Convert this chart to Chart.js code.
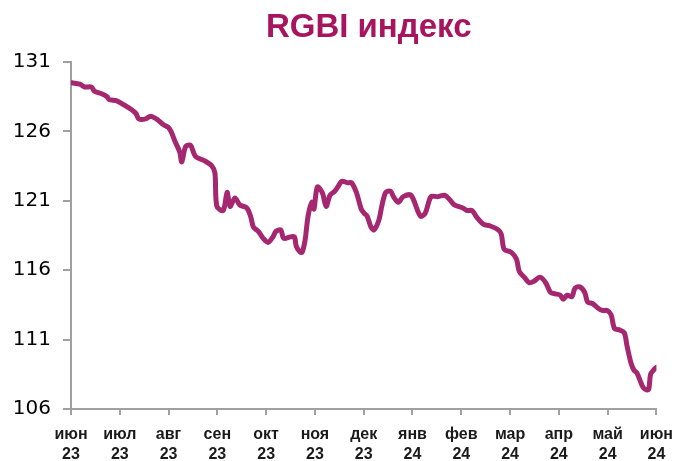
<!DOCTYPE html>
<html>
<head>
<meta charset="utf-8">
<script src="https://cdn.jsdelivr.net/npm/chart.js@4"></script>
<style>
  html, body { margin: 0; padding: 0; background: #fff; }
  #wrap { width: 683px; height: 461px; }
</style>
</head>
<body>
<div id="wrap"><canvas id="grafico" width="683" height="461"></canvas></div>
<script>
// подписи оси X: месяц и год
const monthLabels = ['июн', 'июл', 'авг', 'сен', 'окт', 'ноя', 'дек', 'янв', 'фев', 'мар', 'апр', 'май', 'июн'];
const yearLabels = ['23', '23', '23', '23', '23', '23', '23', '24', '24', '24', '24', '24', '24'];
const yTicks = [106, 111, 116, 121, 126, 131];

// позиция точки в месяцах от июня 23
const datePos = [
  0.02, 0.18, 0.28, 0.42, 0.48, 0.64, 0.74, 0.78, 0.94, 1.09,
  1.23, 1.33, 1.39, 1.53, 1.63, 1.75, 1.89, 1.99, 2.05, 2.13,
  2.23, 2.27, 2.35, 2.45, 2.55, 2.73, 2.89, 2.95, 2.99, 3.12,
  3.20, 3.26, 3.36, 3.46, 3.60, 3.68, 3.74, 3.84, 3.94, 4.04,
  4.14, 4.20, 4.30, 4.36, 4.50, 4.58, 4.62, 4.70, 4.74, 4.80,
  4.86, 4.94, 4.98, 5.05, 5.15, 5.23, 5.31, 5.41, 5.47, 5.55,
  5.67, 5.75, 5.85, 5.95, 6.01, 6.07, 6.15, 6.21, 6.31, 6.37,
  6.45, 6.55, 6.61, 6.71, 6.81, 6.97, 7.16, 7.26, 7.38, 7.52,
  7.66, 7.76, 7.86, 8.02, 8.12, 8.22, 8.32, 8.46, 8.58, 8.76,
  8.82, 8.88, 9.02, 9.13, 9.19, 9.29, 9.39, 9.49, 9.61, 9.73,
  9.83, 9.93, 10.03, 10.09, 10.17, 10.27, 10.33, 10.43, 10.53, 10.59,
  10.69, 10.79, 10.89, 10.99, 11.07, 11.14, 11.24, 11.34, 11.40, 11.48,
  11.54, 11.60, 11.72, 11.78, 11.84, 11.88, 11.94, 12.00
];
const rgbi = [
  129.5, 129.4, 129.2, 129.2, 128.9, 128.7, 128.5, 128.3, 128.2, 127.9,
  127.6, 127.3, 126.9, 126.9, 127.1, 126.9, 126.5, 126.3, 126.0, 125.3,
  124.5, 123.8, 124.9, 125.0, 124.2, 123.9, 123.5, 123.0, 120.6, 120.3,
  121.6, 120.6, 121.2, 120.7, 120.5, 119.9, 119.1, 118.8, 118.3, 118.0,
  118.4, 118.8, 118.9, 118.3, 118.4, 118.4, 117.7, 117.3, 117.3, 118.2,
  119.9, 120.9, 120.4, 122.0, 121.6, 120.6, 121.4, 121.7, 122.0, 122.4,
  122.3, 122.3, 121.6, 120.4, 120.1, 119.9, 119.1, 118.9, 119.6, 120.6,
  121.6, 121.7, 121.3, 120.9, 121.3, 121.4, 119.9, 120.1, 121.3, 121.3,
  121.4, 121.1, 120.7, 120.5, 120.3, 120.3, 119.8, 119.3, 119.2, 118.9,
  118.6, 117.5, 117.3, 116.8, 115.9, 115.5, 115.1, 115.2, 115.5, 115.1,
  114.4, 114.3, 114.2, 113.9, 114.2, 114.1, 114.7, 114.8, 114.4, 113.7,
  113.6, 113.3, 113.1, 113.1, 112.8, 111.8, 111.7, 111.5, 110.5, 109.3,
  108.8, 108.6, 107.6, 107.4, 107.4, 108.5, 108.8, 109.0
];

const puntos = datePos.map(function(x, i) {
  return { x: x, y: rgbi[i] };
});

// заголовок рисуем сами, над областью графика
const tituloPlugin = {
  id: 'titulo',
  afterDraw: function(chart) {
    const ctx = chart.ctx;
    const area = chart.chartArea;
    ctx.save();
    ctx.fillStyle = '#a8155f';
    ctx.font = 'bold 33px "Liberation Sans", Arial, sans-serif';
    ctx.textAlign = 'center';
    ctx.textBaseline = 'alphabetic';
    ctx.fillText('RGBI индекс', (area.left + area.right) / 2 + 5, 37);
    ctx.restore();
  }
};

const ctx = document.querySelector('#grafico');
const rgbiChart = new Chart(ctx, {
  type: 'line',
  data: {
    datasets: [{
      data: puntos,
      borderColor: '#a4276f',
      borderWidth: 5,
      pointRadius: 0,
      tension: 0.3,
      borderJoinStyle: 'round',
      borderCapStyle: 'round',
      fill: false
    }]
  },
  options: {
    responsive: false,
    animation: false,
    layout: { padding: { top: 62, right: 15, left: 0, bottom: 0 } },
    plugins: {
      legend: { display: false },
      tooltip: { enabled: false }
    },
    scales: {
      x: {
        type: 'linear',
        min: 0,
        max: monthLabels.length - 1,
        afterFit: function(scale) { scale.height = 52; },
        border: { display: true, color: '#a0a0a0', width: 2 },
        grid: { drawOnChartArea: false, drawTicks: true, tickLength: 6, color: '#a0a0a0', lineWidth: 2 },
        ticks: {
          stepSize: 1,
          autoSkip: false,
          maxRotation: 0,
          padding: 10,
          color: '#1a1a1a',
          font: { family: '"Liberation Sans", Arial, sans-serif', size: 16, weight: 'bold', lineHeight: 1.25 },
          callback: function(v) {
            return [monthLabels[v], yearLabels[v]];
          }
        }
      },
      y: {
        min: yTicks[0],
        max: yTicks[yTicks.length - 1],
        afterFit: function(scale) { scale.width = 71; },
        border: { display: true, color: '#a0a0a0', width: 2 },
        grid: { drawOnChartArea: false, drawTicks: true, tickLength: 8, color: '#a0a0a0', lineWidth: 2 },
        ticks: {
          stepSize: yTicks[1] - yTicks[0],
          padding: 12,
          color: '#000',
          font: { family: '"DejaVu Sans", sans-serif', size: 20 }
        }
      }
    }
  },
  plugins: [tituloPlugin]
});
</script>
</body>
</html>
